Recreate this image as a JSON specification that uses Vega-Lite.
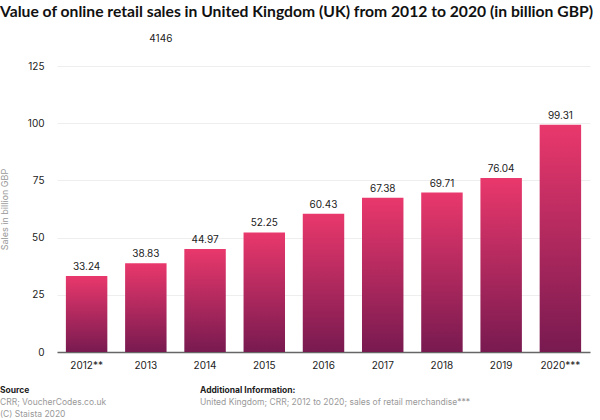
{
  "$schema": "https://vega.github.io/schema/vega-lite/v6.json",
  "padding": {"top": 3, "left": 0, "right": 0, "bottom": 0},
  "background": "white",
  "config": {"font": "Inter", "view": {"stroke": null}, "concat": {"spacing": 16}},
  "title": {"text": "Value of online retail sales in United Kingdom (UK) from 2012 to 2020 (in billion GBP)", "anchor": "start", "fontSize": 15.7, "fontWeight": "bold", "font": "Lato", "color": "#111111", "offset": 13},
  "align": "none",
  "vconcat": [
    {
      "width": 533,
      "height": 286,
      "data": {"values": [
        {"year": "2012**", "value": 33.24},
        {"year": "2013", "value": 38.83},
        {"year": "2014", "value": 44.97},
        {"year": "2015", "value": 52.25},
        {"year": "2016", "value": 60.43},
        {"year": "2017", "value": 67.38},
        {"year": "2018", "value": 69.71},
        {"year": "2019", "value": 76.04},
        {"year": "2020***", "value": 99.31}
      ]},
      "layer": [
        {
          "mark": {"type": "bar", "color": {"gradient": "linear", "x1": 0, "y1": 0, "x2": 0, "y2": 1, "stops": [{"offset": 0, "color": "#e9386c"}, {"offset": 1, "color": "#781a50"}]}},
          "encoding": {
            "x": {"field": "year", "type": "nominal", "sort": null, "scale": {"paddingInner": 0.3, "paddingOuter": 0.15},
              "axis": {"title": null, "labelAngle": 0, "domain": true, "domainColor": "#666666", "domainWidth": 1.5, "ticks": false, "labelPadding": 8, "labelFontSize": 10, "labelColor": "#222222"}},
            "y": {"field": "value", "type": "quantitative", "scale": {"domain": [0, 125], "nice": false},
              "axis": {"values": [0, 25, 50, 75, 100, 125], "title": "Sales in billion GBP", "titleColor": "#999999", "titleFontWeight": "normal", "titleFontSize": 9, "titlePadding": 18, "domain": false, "ticks": false, "gridColor": "#eeeeee", "labelPadding": 13, "labelFontSize": 10, "labelColor": "#222222"}}
          }
        },
        {
          "mark": {"type": "text", "dy": -9, "fontSize": 10, "color": "#222222"},
          "encoding": {
            "x": {"field": "year", "type": "nominal", "sort": null},
            "y": {"field": "value", "type": "quantitative", "scale": {"domain": [0, 125], "nice": false}},
            "text": {"field": "value", "type": "quantitative", "format": ".2f"}
          }
        },
        {
          "data": {"values": [{"label": "4146"}]},
          "mark": {"type": "text", "align": "center", "dx": 15, "fontSize": 10, "color": "#222222"},
          "encoding": {
            "x": {"datum": "2013"},
            "y": {"datum": 137, "scale": {"domain": [0, 125], "nice": false}},
            "text": {"field": "label"}
          }
        }
      ]
    },
    {
      "width": 600,
      "height": 24,
      "data": {"values": [
        {"block": "Source", "line": 1, "kind": "head", "text": "Source"},
        {"block": "Source", "line": 2, "kind": "body", "text": "CRR; VoucherCodes.co.uk"},
        {"block": "Source", "line": 3, "kind": "body", "text": "(C) Staista 2020"},
        {"block": "Additional", "line": 1, "kind": "head", "text": "Additional Information:"},
        {"block": "Additional", "line": 2, "kind": "body", "text": "United Kingdom; CRR; 2012 to 2020; sales of retail merchandise***"}
      ]},
      "encoding": {
        "x": {"field": "block", "type": "nominal", "sort": ["Source", "Additional"], "scale": {"type": "point", "padding": 0, "range": [-57, 143]}, "axis": null},
        "y": {"field": "line", "type": "ordinal", "scale": {"padding": 0}, "axis": null},
        "text": {"field": "text"}
      },
      "layer": [
        {"transform": [{"filter": "datum.kind === 'head'"}], "mark": {"type": "text", "align": "left", "baseline": "middle", "fontSize": 8.5, "fontWeight": "bold", "color": "#222222"}},
        {"transform": [{"filter": "datum.kind === 'body'"}], "mark": {"type": "text", "align": "left", "baseline": "middle", "fontSize": 8.5, "color": "#999999"}}
      ]
    }
  ]
}
